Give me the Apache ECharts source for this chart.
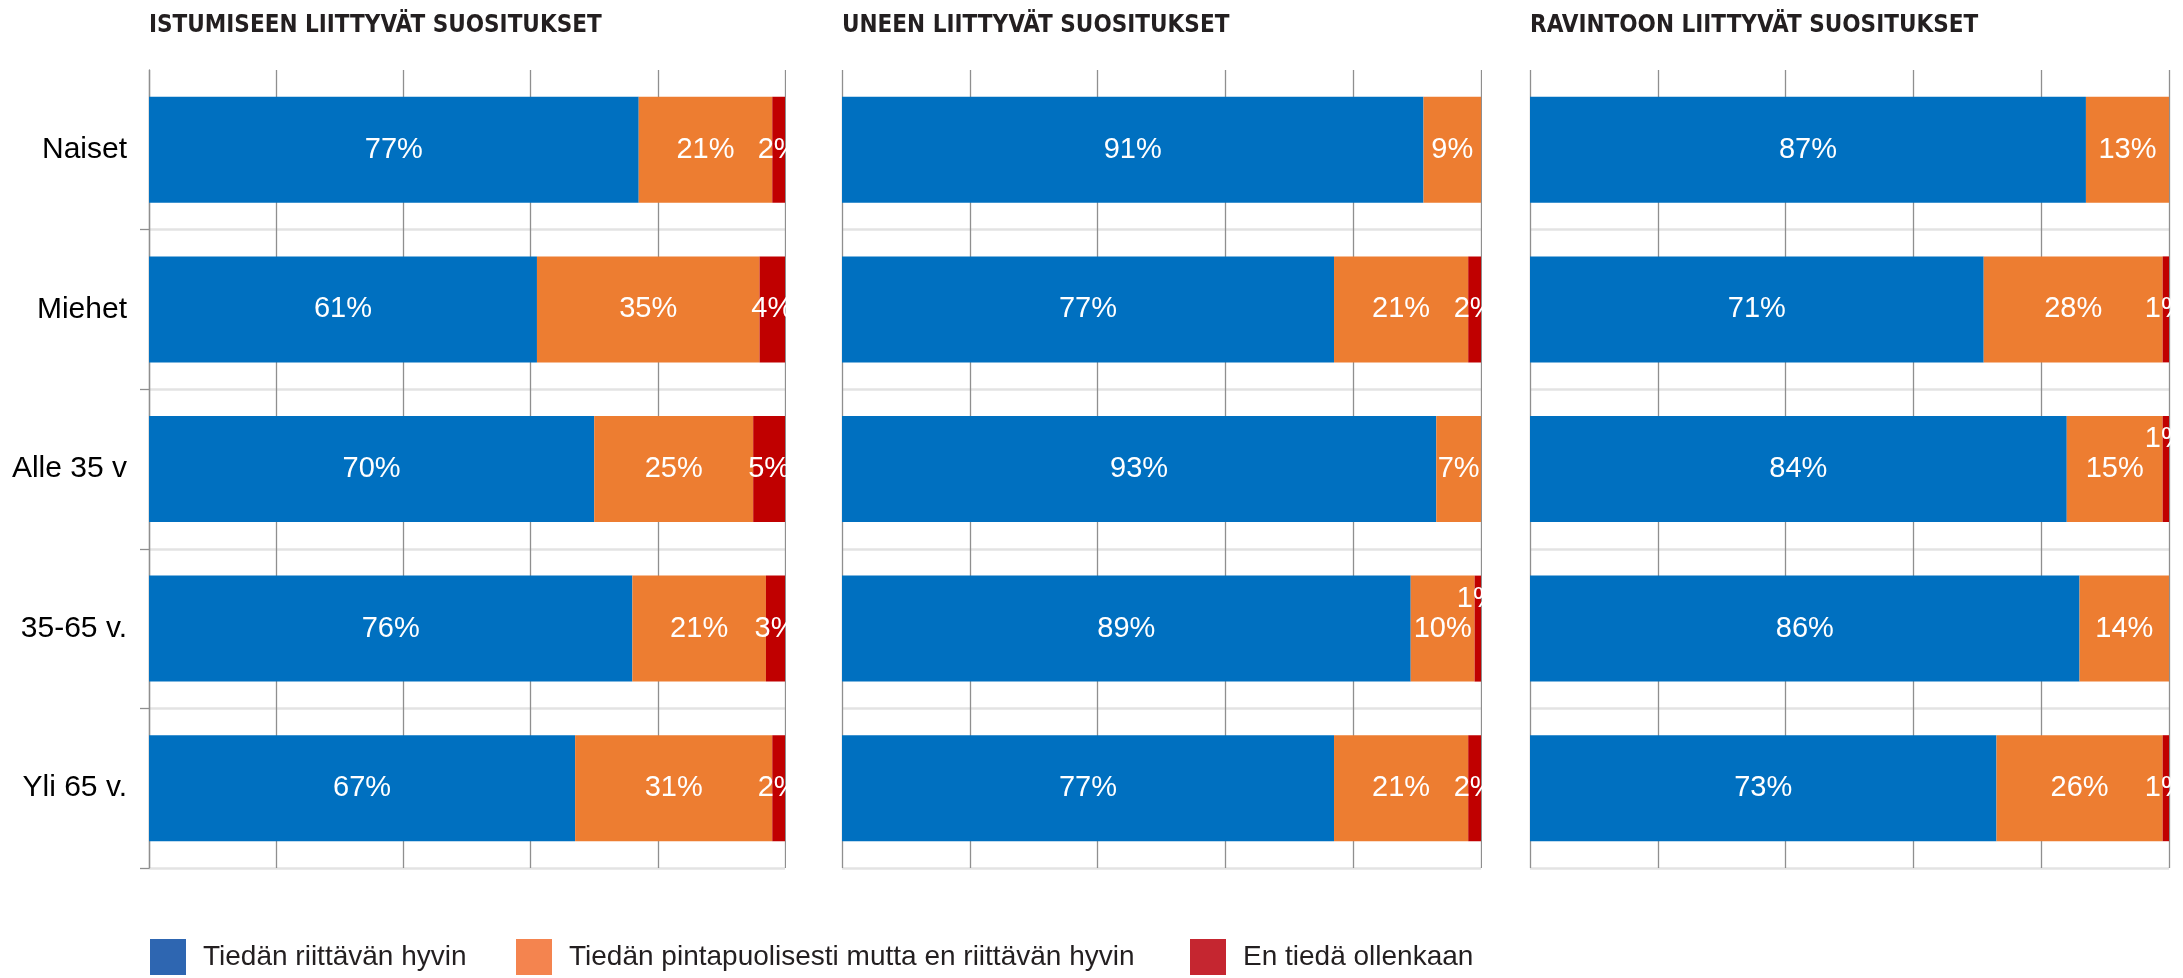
<!DOCTYPE html>
<html>
<head>
<meta charset="utf-8">
<script src="https://cdn.jsdelivr.net/npm/echarts@6/dist/echarts.min.js"></script>
<style>
  html, body { margin: 0; padding: 0; background: #fff; }
  #chart { width: 2183px; height: 978px; }
</style>
</head>
<body>
<div id="chart"></div>
<script>
// ---------- DATA ----------
const categories = ['Naiset', 'Miehet', 'Alle 35 v', '35-65 v.', 'Yli 65 v.'];
const seriesNames = ['Tiedän riittävän hyvin', 'Tiedän pintapuolisesti mutta en riittävän hyvin', 'En tiedä ollenkaan'];
const panelTitles = ['ISTUMISEEN LIITTYVÄT SUOSITUKSET', 'UNEEN LIITTYVÄT SUOSITUKSET', 'RAVINTOON LIITTYVÄT SUOSITUKSET'];

const istuminenHyvin = [77, 61, 70, 76, 67];
const istuminenPinta = [21, 35, 25, 21, 31];
const istuminenEi    = [2, 4, 5, 3, 2];

const uniHyvin = [91, 77, 93, 89, 77];
const uniPinta = [9, 21, 7, 10, 21];
const uniEi    = [0, 2, 0, 1, 2];

const ravintoHyvin = [87, 71, 84, 86, 73];
const ravintoPinta = [13, 28, 15, 14, 26];
const ravintoEi    = [0, 1, 1, 0, 1];

const xTicks = [0, 20, 40, 60, 80, 100];

// ---------- STYLE / LAYOUT ----------
const barColors = ['#0070C0', '#ED7D31', '#C00000'];
const legendColors = ['#2E66B1', '#F4844F', '#C52630'];
const panels = [
  { left: 149, width: 636, data: [istuminenHyvin, istuminenPinta, istuminenEi], raised: [] },
  { left: 842, width: 639, data: [uniHyvin, uniPinta, uniEi], raised: [3] },
  { left: 1530, width: 639, data: [ravintoHyvin, ravintoPinta, ravintoEi], raised: [2] }
];
const gridTop = 70, gridBottom = 110;
const bodyFont = "'Liberation Sans', Arial, sans-serif";
const titleFont = "'DejaVu Sans Condensed', 'DejaVu Sans', sans-serif";

const grids = [], xAxes = [], yAxes = [], series = [], titles = [], graphics = [];

panels.forEach((p, pi) => {
  grids.push({ left: p.left, width: p.width, top: gridTop, bottom: gridBottom, containLabel: false });
  titles.push({
    text: panelTitles[pi], left: p.left, top: 14, padding: 0,
    textStyle: { fontFamily: titleFont, fontWeight: 'bold', fontSize: 24, color: '#231F20' }
  });
  xAxes.push({
    type: 'value', gridIndex: pi, min: xTicks[0], max: xTicks[xTicks.length - 1],
    interval: xTicks[1] - xTicks[0],
    axisLabel: { show: false }, axisLine: { show: false }, axisTick: { show: false },
    splitLine: { show: true, lineStyle: { color: '#8F8F8F', width: 1.3 } }
  });
  yAxes.push({
    type: 'category', gridIndex: pi, data: categories, inverse: true,
    axisLine: { show: pi === 0, lineStyle: { color: '#8F8F8F', width: 1.3 } },
    axisTick: { show: pi === 0, length: 9, interval: (i) => i !== 0, lineStyle: { color: '#8F8F8F', width: 1.3 } },
    axisLabel: { show: pi === 0, interval: 0, fontFamily: bodyFont, fontSize: 30, color: '#000', margin: 22 },
    splitLine: { show: true, interval: 0, showMinLine: false, lineStyle: { color: '#E3E3E3', width: 2.5 } }
  });
  p.data.forEach((vals, si) => {
    series.push({
      type: 'bar', name: seriesNames[si], stack: 'p' + pi,
      xAxisIndex: pi, yAxisIndex: pi, barWidth: 106,
      itemStyle: { color: barColors[si] },
      label: {
        show: true, position: 'inside', color: '#fff', fontFamily: bodyFont, fontSize: 29,
        formatter: (d) => (d.value ? d.value + '%' : '')
      },
      data: vals.map((v, ci) => (si === 2 && p.raised.indexOf(ci) >= 0)
        ? { value: v, label: { offset: [0, -30] } } : v)
    });
  });
  // mimic clipping of labels at the plot area's right edge
  if (pi < panels.length - 1) {
    const x0 = p.left + p.width + 1;
    graphics.push({
      type: 'rect', z: 100,
      shape: { x: x0, y: gridTop - 5, width: panels[pi + 1].left - x0 - 1, height: 978 - gridTop - gridBottom + 10 },
      style: { fill: '#fff' }
    });
  }
});

const legendLefts = [150, 516, 1190];
const legends = seriesNames.map((n, i) => ({
  data: [{ name: n, itemStyle: { color: legendColors[i] } }],
  left: legendLefts[i], top: 939, padding: 0,
  icon: 'rect', itemWidth: 36, itemHeight: 36,
  textStyle: { fontFamily: bodyFont, fontSize: 28, color: '#231F20', padding: [0, 0, 0, 12] }
}));

const chart = echarts.init(document.getElementById('chart'), null, { renderer: 'canvas' });
chart.setOption({
  animation: false,
  backgroundColor: '#fff',
  title: titles,
  grid: grids,
  xAxis: xAxes,
  yAxis: yAxes,
  legend: legends,
  series: series,
  graphic: graphics
});
</script>
</body>
</html>
